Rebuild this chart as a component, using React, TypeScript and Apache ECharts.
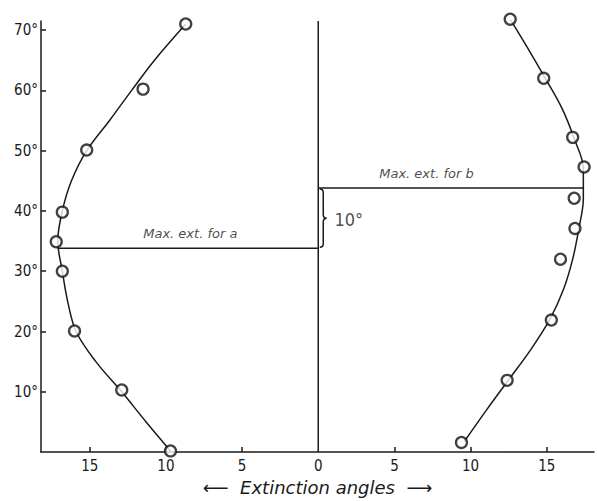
import React, { useEffect, useRef } from "react";
import * as echarts from "echarts";

// Axis ticks / labels
const xTickValues = [-15, -10, -5, 0, 5, 10, 15];
const yTickValues = [10, 20, 30, 40, 50, 60, 70];

// Observed points (left branch "a" plotted to the left as negative x)
const pointsAX = [-8.7, -11.5, -15.2, -16.8, -17.2, -16.8, -16.0, -12.9, -9.7];
const pointsAY = [71, 60.2, 50.1, 39.8, 34.9, 30, 20.1, 10.3, 0.2];
const pointsBX = [12.6, 14.8, 16.7, 17.45, 16.8, 16.85, 15.9, 15.3, 12.4, 9.4];
const pointsBY = [71.8, 62, 52.2, 47.3, 42.1, 37.1, 32, 21.9, 11.9, 1.6];

// Hand-drawn fitted curves
const curveAY = [0.2, 5, 10, 15, 20, 25, 30, 35, 40, 45, 50, 55, 60, 65, 71];
const curveAX = [-9.7, -11.3, -12.9, -14.6, -15.9, -16.45, -16.8, -17.1, -16.8, -16.2, -15.2, -13.7, -12.25, -10.75, -8.7];
const curveBY = [1.8, 7, 12, 17, 22, 27, 32, 37, 42, 47, 52, 57, 62, 67, 71.8];
const curveBX = [9.6, 11.05, 12.5, 13.95, 15.2, 16.1, 16.7, 17.1, 17.4, 17.4, 16.8, 16.0, 14.9, 13.75, 12.6];

// Maximum extinction levels
const maxA = { angle: 33.8, ext: -17.1 };
const maxB = { angle: 43.8, ext: 17.45 };
const centerTop = 71.5;

// Annotation texts (data coordinates)
const annotations = [
  { text: "Max. ext. for a", x: -8.4, y: 36.2, italic: true, size: 13 },
  { text: "Max. ext. for b", x: 7.1, y: 46.2, italic: true, size: 13 },
  { text: "10°", x: 2.0, y: 38.6, italic: false, size: 18 },
];

const INK = "#1a1a1a";
const NARROW = '"DejaVu Sans Condensed", "Liberation Sans Narrow", "Arial Narrow", sans-serif';
const HAND = '"DejaVu Sans", "Liberation Sans", sans-serif';

const zip = (xs: number[], ys: number[]) => xs.map((x, i) => [x, ys[i]]);

export default function App() {
  const ref = useRef<HTMLDivElement>(null);
  useEffect(() => {
    document.body.style.margin = "0";
    const chart = echarts.init(ref.current!, null, { renderer: "svg" });
    const lineStyle = { color: INK, width: 1.5 };
    const symbolStyle = { color: "#fff", borderColor: "#111", borderWidth: 2.3 };
    chart.setOption({
      animation: false,
      backgroundColor: "#ffffff",
      grid: { left: 41, right: 3, top: 21, bottom: 43 },
      xAxis: {
        type: "value",
        min: -18.2,
        max: 18.1,
        splitLine: { show: false },
        axisLine: { onZero: false, lineStyle },
        axisTick: {
          inside: true,
          length: 5,
          customValues: [-15, -10, -5, 5, 10, 15],
          lineStyle,
        },
        axisLabel: {
          customValues: xTickValues,
          formatter: (v: number) => String(Math.abs(v)),
          margin: 6,
          color: INK,
          fontFamily: NARROW,
          fontSize: 15,
        },
        name: "⟵  Extinction angles  ⟶",
        nameLocation: "middle",
        nameGap: 23,
        nameTextStyle: {
          color: INK,
          fontFamily: HAND,
          fontStyle: "italic",
          fontSize: 18,
          verticalAlign: "top",
        },
      },
      yAxis: {
        type: "value",
        min: 0,
        max: centerTop,
        splitLine: { show: false },
        axisLine: { onZero: false, lineStyle },
        axisTick: { inside: true, length: 5, customValues: yTickValues, lineStyle },
        axisLabel: {
          customValues: yTickValues,
          formatter: (v: number) => `${v}°`,
          margin: 3,
          color: INK,
          fontFamily: NARROW,
          fontSize: 15,
        },
      },
      series: [
        {
          type: "line",
          data: zip(curveAX, curveAY),
          smooth: 0.35,
          showSymbol: false,
          lineStyle,
          z: 2,
        },
        {
          type: "line",
          data: zip(curveBX, curveBY),
          smooth: 0.35,
          showSymbol: false,
          lineStyle,
          z: 2,
        },
        {
          type: "line",
          data: [
            [0, 0],
            [0, centerTop],
          ],
          showSymbol: false,
          lineStyle,
          z: 2,
        },
        {
          type: "line",
          data: [
            [maxA.ext, maxA.angle],
            [0, maxA.angle],
          ],
          showSymbol: false,
          lineStyle,
          z: 2,
        },
        {
          type: "line",
          data: [
            [0, maxB.angle],
            [maxB.ext, maxB.angle],
          ],
          showSymbol: false,
          lineStyle,
          z: 2,
        },
        {
          type: "custom",
          data: [[0, maxA.angle, maxB.angle]],
          clip: false,
          renderItem: (params: any, api: any) => {
            const top = api.coord([api.value(0), api.value(2)]);
            const bot = api.coord([api.value(0), api.value(1)]);
            const x0 = top[0] + 1.5;
            const y1 = top[1] + 1;
            const y2 = bot[1] - 1;
            const m = (y1 + y2) / 2;
            const h = 3.5;
            const d = `M${x0} ${y1} Q${x0 + h} ${y1} ${x0 + h} ${y1 + h} L${x0 + h} ${m - h} Q${x0 + h} ${m} ${x0 + 2 * h} ${m} Q${x0 + h} ${m} ${x0 + h} ${m + h} L${x0 + h} ${y2 - h} Q${x0 + h} ${y2} ${x0} ${y2}`;
            return {
              type: "path",
              shape: { pathData: d },
              style: { fill: "none", stroke: INK, lineWidth: 1.5 },
            };
          },
          z: 3,
        },
        {
          type: "scatter",
          data: zip(pointsAX, pointsAY),
          symbol: "circle",
          symbolSize: 11,
          itemStyle: symbolStyle,
          clip: false,
          z: 5,
        },
        {
          type: "scatter",
          data: zip(pointsBX, pointsBY),
          symbol: "circle",
          symbolSize: 11,
          itemStyle: symbolStyle,
          clip: false,
          z: 5,
        },
        {
          type: "scatter",
          data: annotations.map((a) => ({
            value: [a.x, a.y],
            label: {
              show: true,
              position: "inside",
              formatter: a.text,
              color: INK,
              fontFamily: a.italic ? HAND : NARROW,
              fontStyle: a.italic ? "italic" : "normal",
              fontSize: a.size,
            },
          })),
          symbolSize: 0,
          itemStyle: { color: "transparent" },
          silent: true,
          z: 6,
        },
      ],
    });
    return () => chart.dispose();
  }, []);
  return <div ref={ref} style={{ width: 597, height: 501 }} />;
}
